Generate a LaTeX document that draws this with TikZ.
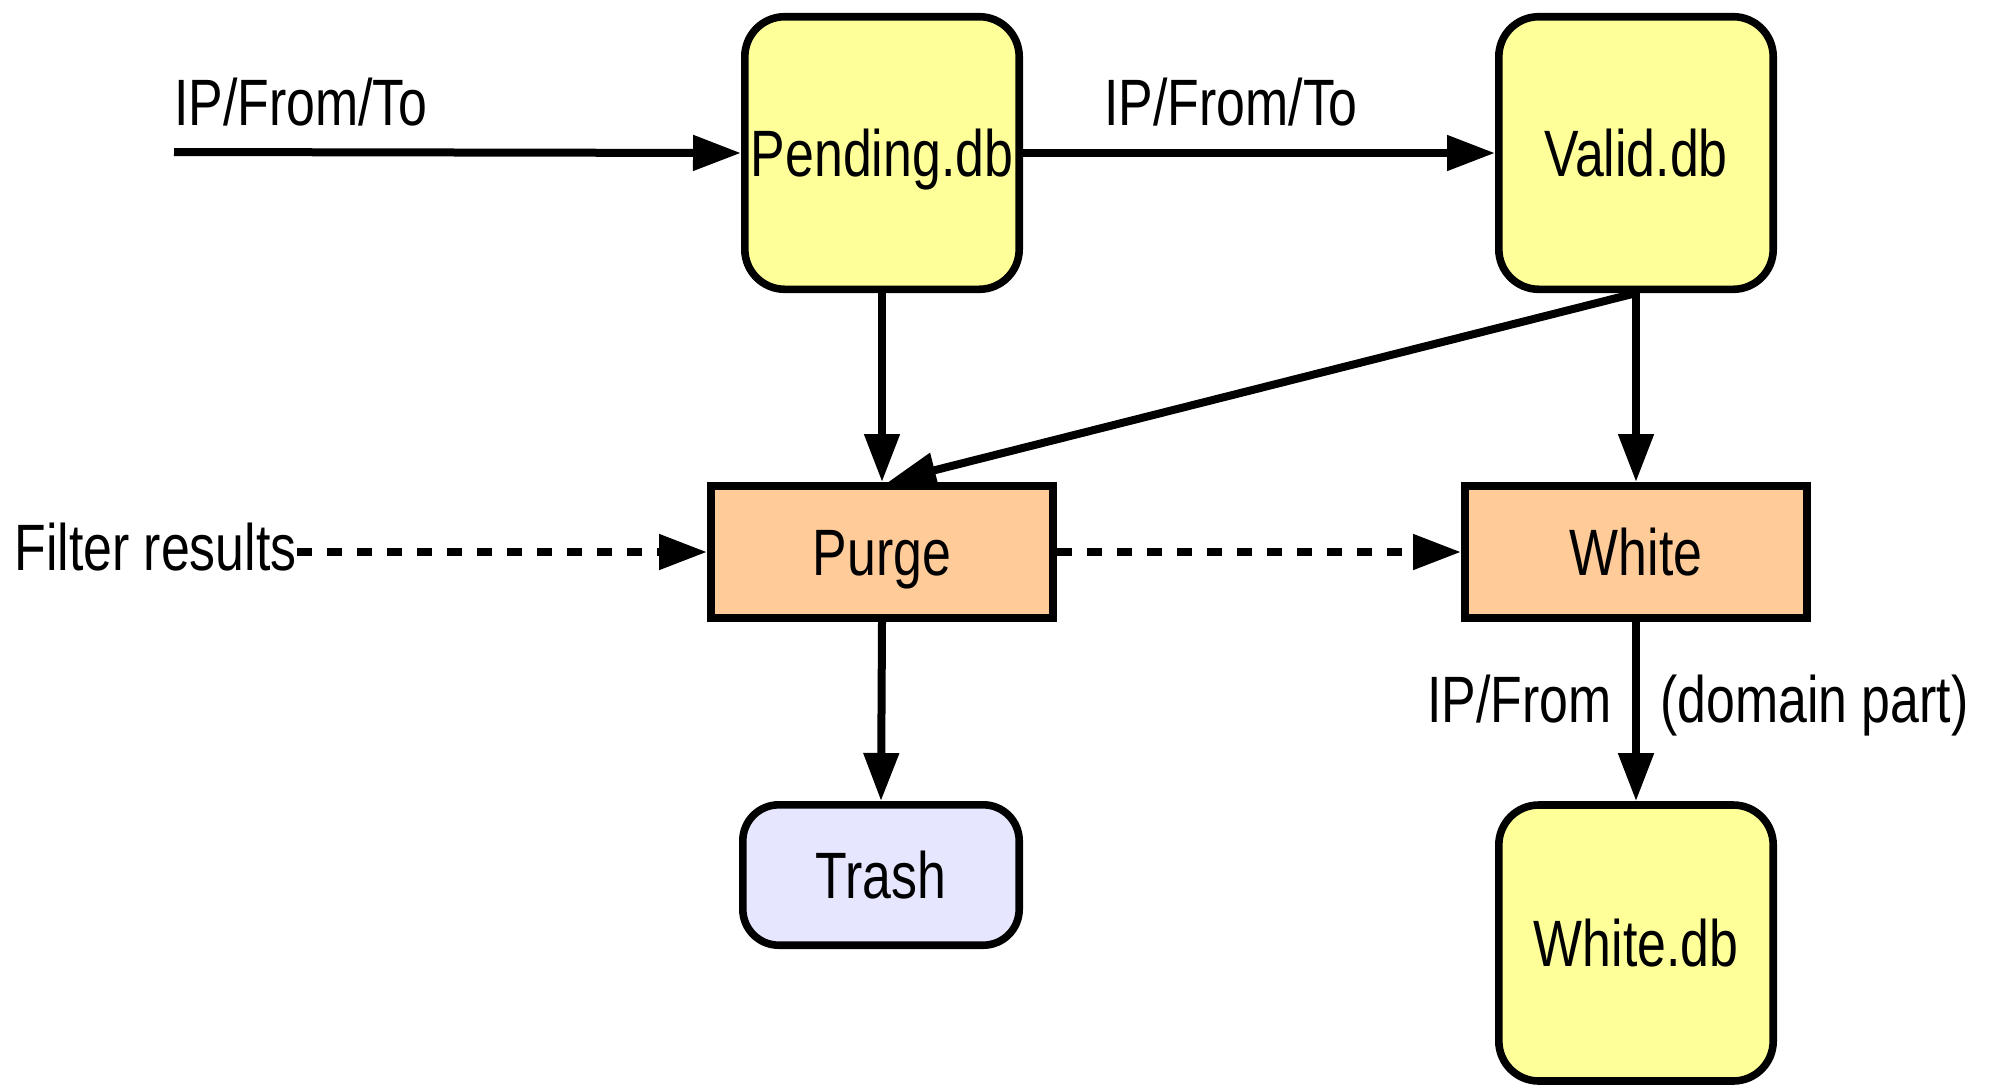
\documentclass[tikz,border=0pt]{standalone}
\usepackage{fontspec}
\setmainfont{Liberation Sans}[FakeStretch=0.79]
\usetikzlibrary{arrows.meta}
\definecolor{dbyellow}{HTML}{FFFF99}
\definecolor{procorange}{HTML}{FFCC99}
\definecolor{trashblue}{HTML}{E6E6FF}
\begin{document}
\begin{tikzpicture}[x=0.5pt,y=-0.5pt, font=\fontsize{32.8}{39}\selectfont,
  box/.style={draw, line width=3.8pt, inner sep=0pt, text height=23.5pt, text depth=0pt},
  db/.style={box, fill=dbyellow, rounded corners=20pt, minimum width=137.2pt, minimum height=136.3pt},
  proc/.style={box, fill=procorange, minimum width=171.2pt, minimum height=66.2pt},
  trashbox/.style={box, fill=trashblue, rounded corners=18pt, minimum width=138.2pt, minimum height=70.2pt},
  conn/.style={line width=4pt, -{Triangle[length=24pt,width=17pt]}},
  dconn/.style={conn, dash pattern=on 7.5pt off 7.5pt},
  lbl/.style={inner sep=0pt}]
\useasboundingbox (0,0) rectangle (1990,1088);
\node[db] (pending) at (882,153) {Pending.db};
\node[db] (valid) at (1636,153) {Valid.db};
\node[proc] (purge) at (882,552) {Purge};
\node[proc] (white) at (1636,552) {White};
\node[trashbox] (trash) at (881,875) {Trash};
\node[db, minimum height=138pt] (whitedb) at (1636,943) {White.db};
\coordinate (src) at (174,152);
\node[lbl, anchor=base] (l1) at (301,125) {IP/From/To};
\node[lbl, anchor=base] (l2) at (1231,125) {IP/From/To};
\node[lbl, anchor=base west] (filt) at (14,570) {Filter results};
\node[lbl, anchor=base east] (l3) at (1612,722) {IP/From};
\node[lbl, anchor=base west] (l4) at (1660,722) {(domain part)};
\draw[conn] (src) -- (pending.west);
\draw[conn] (pending.east) -- (valid.west);
\draw[conn] (pending.south) -- (purge.north);
\draw[conn] (valid.south) -- ([xshift=3pt]purge.north);
\draw[conn] (valid.south) -- (white.north);
\draw[conn] (purge.south) -- (trash.north);
\draw[conn] (white.south) -- (whitedb.north);
\draw[dconn] (filt.east |- purge.west) -- (purge.west);
\draw[dconn] (purge.east) -- (white.west);
\end{tikzpicture}
\end{document}
